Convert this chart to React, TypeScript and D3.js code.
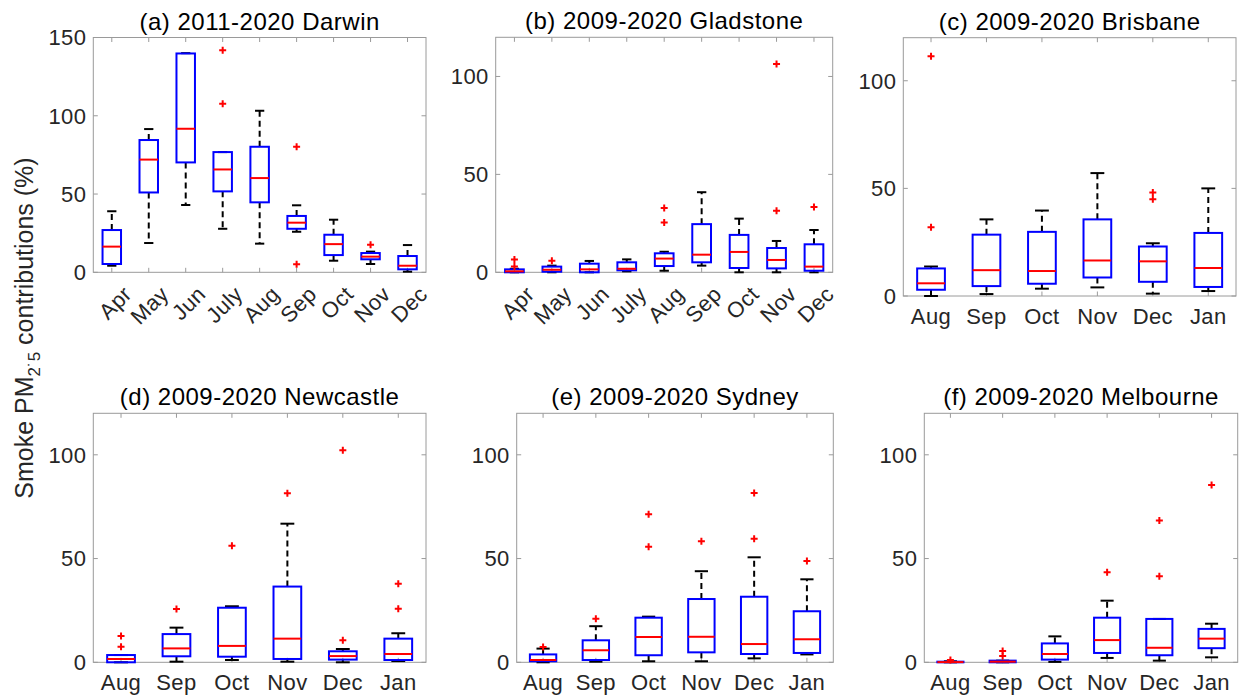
import React from 'react';
import * as d3 from 'd3';

// (a) Darwin
const darwinMonths = ['Apr', 'May', 'Jun', 'July', 'Aug', 'Sep', 'Oct', 'Nov', 'Dec'];
const darwinLow = [4.2, 18.7, 43, 27.8, 18.3, 25.9, 7.4, 5.3, 0.4];
const darwinQ1 = [5.3, 51, 70.2, 51.7, 44.7, 27.8, 11, 8.3, 1.9];
const darwinMed = [16.4, 72, 91.7, 65.7, 60.2, 31.7, 18, 10, 4.2];
const darwinQ3 = [27, 84.5, 139.8, 76.8, 80.2, 36, 24, 12.3, 10.4];
const darwinHigh = [39, 91.5, 140, 76.8, 103.2, 42.8, 33.6, 13.2, 17.4];
const darwinOut = [[], [], [], [141.9, 107.6], [], [80.2, 5.1], [], [17.6], []];

// (b) Gladstone
const gladMonths = ['Apr', 'May', 'Jun', 'July', 'Aug', 'Sep', 'Oct', 'Nov', 'Dec'];
const gladLow = [0, 0, 0, 0.5, 0.8, 3.4, 0, 0, 0];
const gladQ1 = [0, 0.3, 0, 1, 3.2, 5.1, 2.2, 2, 0.8];
const gladMed = [0.5, 1.3, 1.5, 1.8, 7, 9, 10.4, 6.3, 2.9];
const gladQ3 = [1.5, 2.9, 4.4, 5.1, 9.7, 24.6, 19.1, 12.4, 14.3];
const gladHigh = [1.8, 3.4, 5.8, 6.6, 10.5, 40.9, 27.4, 16, 21.6];
const gladOut = [[6.6, 2.9], [5.9], [], [], [32.8, 25.4], [], [], [106.4, 31.4], [33.4]];

const springMonths = ['Aug', 'Sep', 'Oct', 'Nov', 'Dec', 'Jan'];

// (c) Brisbane
const brisLow = [0, 0.9, 3.4, 4, 1.1, 2.3];
const brisQ1 = [2.9, 4.6, 5.7, 8.6, 6.6, 4.2];
const brisMed = [5.9, 12, 11.6, 16.5, 16.1, 13];
const brisQ3 = [12.8, 28.5, 29.8, 35.6, 23, 29.3];
const brisHigh = [13.7, 35.6, 39.7, 57.1, 24.5, 50];
const brisOut = [[111.4, 31.9], [], [], [], [48.1, 44.9], []];

// (d) Newcastle
const newcLow = [0, 0.3, 1.1, 0.3, 0, 0.6];
const newcQ1 = [0, 2.9, 2.7, 1.6, 1.3, 1.1];
const newcMed = [1.6, 6.7, 7.9, 11.4, 3, 4];
const newcQ3 = [3.5, 13.6, 26.3, 36.5, 5.3, 11.4];
const newcHigh = [3.5, 16.7, 27, 66.8, 6.4, 14];
const newcOut = [[12.7, 7.5], [25.7], [56.2], [81.5], [102.2, 10.6], [37.9, 25.8]];

// (e) Sydney
const sydLow = [0, 0.3, 0.5, 0.5, 1.9, 3.8];
const sydQ1 = [0.5, 1.1, 3.4, 4.8, 4, 4.5];
const sydMed = [1.1, 5.8, 12.2, 12.3, 8.8, 11.1];
const sydQ3 = [3.8, 10.6, 21.5, 30.5, 31.6, 24.6];
const sydHigh = [6.6, 17.4, 22, 43.9, 50.6, 40];
const sydOut = [[7.4], [21], [71.4, 55.7], [58.3], [81.6, 59.5], [48.8]];

// (f) Melbourne
const melbLow = [0, 0, 0.2, 2.1, 0.8, 2.4];
const melbQ1 = [0, 0, 1.3, 4.5, 3.4, 6.8];
const melbMed = [0.1, 0.3, 4, 10.7, 7, 11.4];
const melbQ3 = [0.3, 0.8, 9.1, 21.5, 20.9, 16.1];
const melbHigh = [0.5, 0.8, 12.5, 29.7, 20.9, 18.6];
const melbOut = [[1.1], [5.4, 3], [], [43.4], [68.3, 41.5], [85.5]];

const ticks150 = [0, 50, 100, 150];
const ticks120 = [0, 50, 100];

const FONT = '"Liberation Sans", Arial, Helvetica, sans-serif';
const AXIS = '#9a9a9a';
const LABEL = '#262626';

function BoxPanel(props) {
  const { title, months, low, q1, med, q3, high, out, left, right, top, bottom, yMax, yTicks, rotate } = props;
  const x = d3.scaleLinear().domain([0.5, months.length + 0.5]).range([left, right]);
  const y = d3.scaleLinear().domain([0, yMax]).range([bottom, top]);
  const step = x(2) - x(1);
  const bw = step * 0.5;
  const cw = step * 0.25;
  const tk = 4.5;

  return (
    <g fontFamily={FONT}>
      <text x={(left + right) / 2} y={top - 8} textAnchor="middle" fontSize={24} letterSpacing={0.5} fill="#000">{title}</text>

      {yTicks.map(t => (
        <g key={'y' + t}>
          <line x1={left} x2={left + tk} y1={y(t)} y2={y(t)} stroke={AXIS} />
          <line x1={right} x2={right - tk} y1={y(t)} y2={y(t)} stroke={AXIS} />
          <text x={left - 7} y={y(t)} dy="0.36em" textAnchor="end" fontSize={22} letterSpacing={0.4} fill={LABEL}>{t}</text>
        </g>
      ))}

      {months.map((m, i) => {
        const cx = x(i + 1);
        return (
          <g key={'x' + m}>
            <line x1={cx} x2={cx} y1={bottom} y2={bottom - tk} stroke={AXIS} />
            <line x1={cx} x2={cx} y1={top} y2={top + tk} stroke={AXIS} />
            {rotate ? (
              <text transform={`translate(${cx + 16},${bottom + 18}) rotate(-45)`} textAnchor="end" dominantBaseline="central" fontSize={22} letterSpacing={0.4} fill={LABEL}>{m}</text>
            ) : (
              <text x={cx} y={bottom + 28} textAnchor="middle" fontSize={22} letterSpacing={0.4} fill={LABEL}>{m}</text>
            )}
          </g>
        );
      })}

      <rect x={left} y={top} width={right - left} height={bottom - top} fill="none" stroke={AXIS} strokeWidth={1} />

      {months.map((m, i) => {
        const cx = x(i + 1);
        return (
          <g key={'b' + m}>
            <line x1={cx} x2={cx} y1={y(q3[i])} y2={y(high[i])} stroke="#000" strokeWidth={2} strokeDasharray="6,4" />
            <line x1={cx} x2={cx} y1={y(q1[i])} y2={y(low[i])} stroke="#000" strokeWidth={2} strokeDasharray="6,4" />
            <line x1={cx - cw / 2} x2={cx + cw / 2} y1={y(high[i])} y2={y(high[i])} stroke="#000" strokeWidth={2} />
            <line x1={cx - cw / 2} x2={cx + cw / 2} y1={y(low[i])} y2={y(low[i])} stroke="#000" strokeWidth={2} />
            <rect x={cx - bw / 2} y={y(q3[i])} width={bw} height={Math.max(0.5, y(q1[i]) - y(q3[i]))} fill="none" stroke="#0000ff" strokeWidth={2} />
            <line x1={cx - bw / 2} x2={cx + bw / 2} y1={y(med[i])} y2={y(med[i])} stroke="#ff0000" strokeWidth={2} />
            {out[i].map((v, j) => (
              <path key={j} d={`M${cx - 3.5},${y(v)}h7M${cx},${y(v) - 3.5}v7`} stroke="#ff0000" strokeWidth={2} fill="none" />
            ))}
          </g>
        );
      })}
    </g>
  );
}

export default function App() {
  return (
    <svg width={1241} height={698} style={{ position: 'absolute', left: 0, top: 0, background: '#fff' }}>
      <BoxPanel title="(a) 2011-2020 Darwin" months={darwinMonths} low={darwinLow} q1={darwinQ1} med={darwinMed} q3={darwinQ3} high={darwinHigh} out={darwinOut}
        left={93.3} right={426} top={37.5} bottom={272.3} yMax={150} yTicks={ticks150} rotate />
      <BoxPanel title="(b) 2009-2020 Gladstone" months={gladMonths} low={gladLow} q1={gladQ1} med={gladMed} q3={gladQ3} high={gladHigh} out={gladOut}
        left={495.7} right={832.7} top={37.3} bottom={272.3} yMax={120} yTicks={ticks120} rotate />
      <BoxPanel title="(c) 2009-2020 Brisbane" months={springMonths} low={brisLow} q1={brisQ1} med={brisMed} q3={brisQ3} high={brisHigh} out={brisOut}
        left={903.3} right={1236} top={37.7} bottom={296} yMax={120} yTicks={ticks120} />
      <BoxPanel title="(d) 2009-2020 Newcastle" months={springMonths} low={newcLow} q1={newcQ1} med={newcMed} q3={newcQ3} high={newcHigh} out={newcOut}
        left={93.3} right={426} top={413.3} bottom={662.3} yMax={120} yTicks={ticks120} />
      <BoxPanel title="(e) 2009-2020 Sydney" months={springMonths} low={sydLow} q1={sydQ1} med={sydMed} q3={sydQ3} high={sydHigh} out={sydOut}
        left={516.7} right={833.3} top={413.3} bottom={662.3} yMax={120} yTicks={ticks120} />
      <BoxPanel title="(f) 2009-2020 Melbourne" months={springMonths} low={melbLow} q1={melbQ1} med={melbMed} q3={melbQ3} high={melbHigh} out={melbOut}
        left={924.3} right={1237.7} top={413.3} bottom={662.3} yMax={120} yTicks={ticks120} />

      <text transform="translate(33,328) rotate(-90)" textAnchor="middle" fontFamily={FONT} fontSize={25} fill={LABEL}>
        Smoke PM<tspan fontSize={17} dy={7}>2˙5</tspan><tspan dy={-7}> contributions (%)</tspan>
      </text>
    </svg>
  );
}
